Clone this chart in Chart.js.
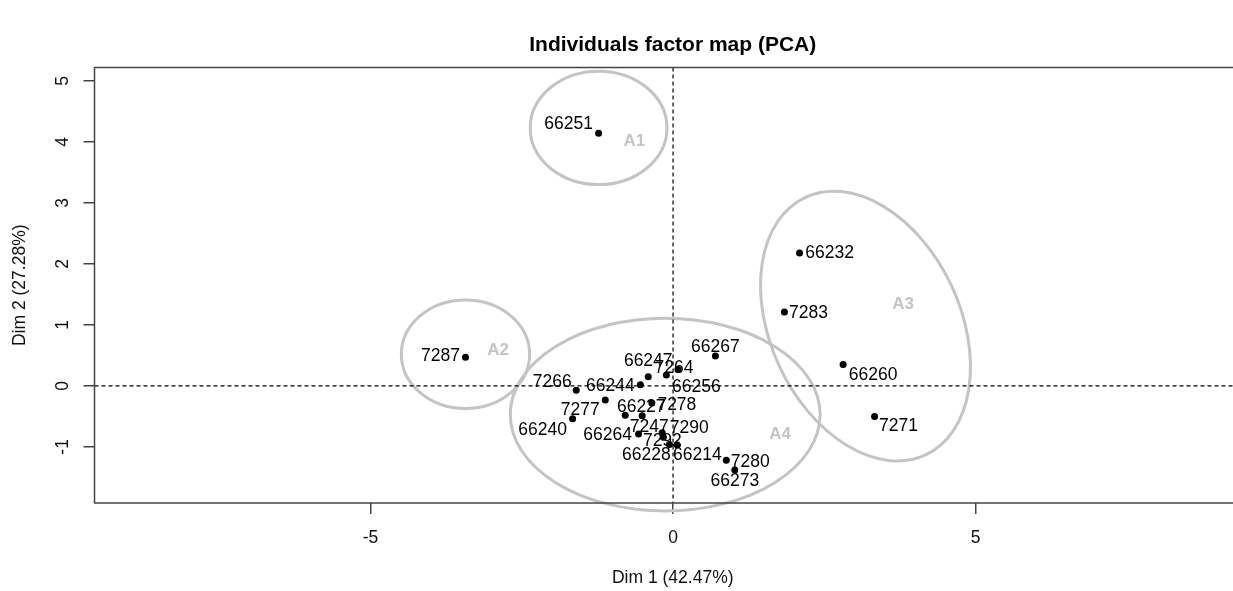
<!DOCTYPE html>
<html>
<head>
<meta charset="utf-8">
<title>Individuals factor map (PCA)</title>
<script src="https://cdn.jsdelivr.net/npm/chart.js@4/dist/chart.umd.min.js"></script>
<style>
  html, body { margin: 0; padding: 0; background: #fff; overflow: hidden; }
  #wrap { width: 1260px; height: 591px; }
</style>
</head>
<body>
<div id="wrap"><canvas id="pcaMap"></canvas></div>
<script>
// individuals and their coordinates on the first two dimensions
const names = ["66251", "7287", "66232", "7283", "66260", "7271", "66267", "66247",
  "7264", "66256", "66244", "7266", "7277", "66240", "66227", "7278", "66264",
  "7247", "7290", "7292", "66228", "66214", "7280", "66273"];
const dim1 = [-1.23, -3.43, 2.09, 1.84, 2.81, 3.33, 0.70, -0.41,
  0.08, -0.11, -0.54, -1.60, -1.12, -1.66, -0.79, -0.35, -0.57,
  -0.51, -0.18, -0.16, -0.06, 0.07, 0.88, 1.02];
const dim2 = [4.14, 0.47, 2.18, 1.21, 0.35, -0.50, 0.49, 0.15,
  0.27, 0.18, 0.02, -0.07, -0.23, -0.54, -0.48, -0.28, -0.79,
  -0.49, -0.77, -0.84, -0.96, -0.97, -1.22, -1.38];

// axis ticks
const xTicks = [-5, 0, 5];
const yTicks = [-1, 0, 1, 2, 3, 4, 5];

// groups drawn as ellipses (centre, radii, tilt) and where their name goes
const groups = ["A1", "A2", "A3", "A4"];
const groupCx = [-1.23, -3.43, 3.18, -0.13];
const groupCy = [4.23, 0.52, 0.98, -0.47];
const groupRx = [1.13, 1.06, 1.57, 2.56];
const groupRy = [0.93, 0.89, 2.33, 1.58];
const groupTilt = [0, 0, -25, 0];
const groupNameX = [-0.64, -2.89, 3.80, 1.77];
const groupNameY = [4.01, 0.59, 1.34, -0.79];

// label placement: offset of the label centre from its point, in px
const labelShift = [[-30, -9], [-25, -1], [30, 0], [24, 1], [30, 11], [24, 10],
  [0, -9], [0, -16], [-4, -1], [30, 12], [-30, 2], [-24, -8], [-25, 10],
  [-30, 11], [16, -8], [25, 2], [-31, 1], [7, 11], [27, -5], [-1, 4],
  [-23, 11], [20, 10], [24, 2], [0, 11]];

const FONT = "'Liberation Sans', Arial, sans-serif";
const ink = "#111";
const frame = "#444";
const ellipseGrey = "#c4c4c4";

const points = dim1.map((v, i) => ({ x: v, y: dim2[i] }));

const mapDecor = {
  id: "mapDecor",
  beforeDatasetsDraw(chart) {
    const { ctx, chartArea: a, scales: { x, y } } = chart;
    ctx.save();

    // group ellipses
    ctx.strokeStyle = ellipseGrey;
    ctx.lineWidth = 3;
    groups.forEach((g, i) => {
      const cx = x.getPixelForValue(groupCx[i]);
      const cy = y.getPixelForValue(groupCy[i]);
      const rx = x.getPixelForValue(groupCx[i] + groupRx[i]) - cx;
      const ry = cy - y.getPixelForValue(groupCy[i] + groupRy[i]);
      ctx.beginPath();
      ctx.ellipse(cx, cy, rx, ry, groupTilt[i] * Math.PI / 180, 0, 2 * Math.PI);
      ctx.stroke();
    });

    // dashed lines through the origin
    ctx.strokeStyle = "#000";
    ctx.lineWidth = 1.2;
    ctx.setLineDash([4, 3]);
    const x0 = x.getPixelForValue(0);
    const y0 = y.getPixelForValue(0);
    ctx.beginPath();
    ctx.moveTo(x0, a.top); ctx.lineTo(x0, a.bottom);
    ctx.moveTo(a.left, y0); ctx.lineTo(a.right, y0);
    ctx.stroke();
    ctx.setLineDash([]);

    // group names
    ctx.fillStyle = ellipseGrey;
    ctx.font = "bold 17px " + FONT;
    ctx.textAlign = "center";
    ctx.textBaseline = "middle";
    groups.forEach((g, i) => {
      ctx.fillText(g, x.getPixelForValue(groupNameX[i]), y.getPixelForValue(groupNameY[i]));
    });
    ctx.restore();
  },
  afterDraw(chart) {
    const { ctx, chartArea: a, scales: { x, y } } = chart;
    ctx.save();

    // point labels
    ctx.fillStyle = "#000";
    ctx.font = "17.5px " + FONT;
    ctx.textAlign = "center";
    ctx.textBaseline = "middle";
    names.forEach((n, i) => {
      const px = x.getPixelForValue(dim1[i]) + labelShift[i][0];
      const py = y.getPixelForValue(dim2[i]) + labelShift[i][1];
      ctx.fillText(n, px, py);
    });

    // box around the plot
    ctx.strokeStyle = frame;
    ctx.lineWidth = 1.5;
    ctx.strokeRect(a.left, a.top, a.right - a.left, a.bottom - a.top);

    // y tick labels, turned like R does
    ctx.fillStyle = ink;
    ctx.font = "17.5px " + FONT;
    yTicks.forEach(v => {
      ctx.save();
      ctx.translate(63, y.getPixelForValue(v));
      ctx.rotate(-Math.PI / 2);
      ctx.fillText(String(v), 0, 0);
      ctx.restore();
    });

    // title and axis titles
    const mid = (a.left + a.right) / 2;
    ctx.font = "bold 21px " + FONT;
    ctx.fillStyle = "#000";
    ctx.fillText("Individuals factor map (PCA)", mid, 45);
    ctx.font = "17.5px " + FONT;
    ctx.fillStyle = ink;
    ctx.fillText("Dim 1 (42.47%)", mid, 578);
    ctx.save();
    ctx.translate(20, (a.top + a.bottom) / 2);
    ctx.rotate(-Math.PI / 2);
    ctx.fillText("Dim 2 (27.28%)", 0, 0);
    ctx.restore();

    ctx.restore();
  }
};

new Chart(document.getElementById("pcaMap"), {
  type: "scatter",
  data: {
    datasets: [{
      data: points,
      pointRadius: 3.5,
      pointHoverRadius: 3.5,
      pointBackgroundColor: "#000",
      pointBorderWidth: 0
    }]
  },
  options: {
    responsive: true,
    maintainAspectRatio: false,
    animation: false,
    events: [],
    layout: { padding: { top: 67.5, right: 9, left: 0, bottom: 0 } },
    plugins: {
      legend: { display: false },
      tooltip: { enabled: false },
      title: { display: false }
    },
    scales: {
      x: {
        type: "linear",
        min: -9.56,
        max: 9.55,
        afterBuildTicks: s => { s.ticks = xTicks.map(v => ({ value: v })); },
        afterFit: s => { s.height = 88; },
        border: { display: false },
        grid: {
          drawOnChartArea: false,
          drawTicks: true,
          tickLength: 11,
          color: frame,
          lineWidth: 1.5
        },
        ticks: {
          color: ink,
          padding: 14,
          maxRotation: 0,
          font: { family: FONT, size: 17.5 }
        }
      },
      y: {
        type: "linear",
        min: -1.92,
        max: 5.22,
        afterBuildTicks: s => { s.ticks = yTicks.map(v => ({ value: v })); },
        afterFit: s => { s.width = 94.5; },
        border: { display: false },
        grid: {
          drawOnChartArea: false,
          drawTicks: true,
          tickLength: 11,
          color: frame,
          lineWidth: 1.5
        },
        ticks: { display: false }
      }
    }
  },
  plugins: [mapDecor]
});
</script>
</body>
</html>
